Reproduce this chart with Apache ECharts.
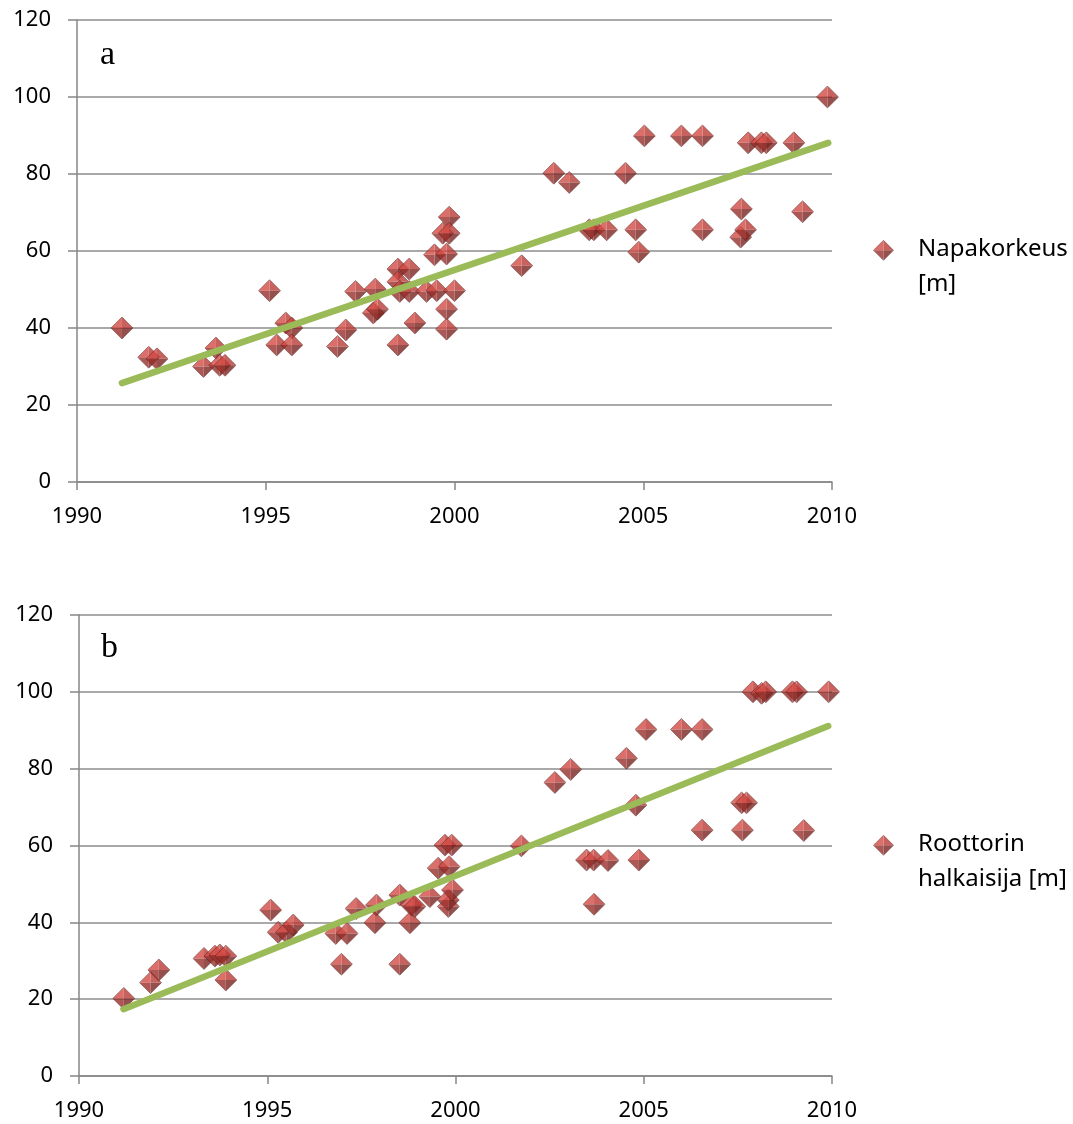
<!DOCTYPE html>
<html>
<head>
<meta charset="utf-8">
<style>
  html, body { margin: 0; padding: 0; background: #fff; }
  #chart { width: 1073px; height: 1124px; }
</style>
<script src="https://cdn.jsdelivr.net/npm/echarts@6/dist/echarts.min.js"></script>
</head>
<body>
<div id="chart"></div>
<script>
// Panel a: hub height by year
const hubYears = [
  1991.19, 1991.90, 1992.12, 1993.35, 1993.68, 1993.78, 1993.92,
  1995.10, 1995.29, 1995.53, 1995.69, 1995.69,
  1996.90, 1997.12, 1997.38, 1997.85, 1997.90, 1997.96,
  1998.50, 1998.50, 1998.50, 1998.55, 1998.80, 1998.80, 1998.95,
  1999.26, 1999.47, 1999.53, 1999.69, 1999.79, 1999.79, 1999.79, 1999.86, 1999.86, 2000.00,
  2001.78, 2002.63, 2003.04, 2003.57, 2003.69, 2004.03, 2004.53, 2004.80, 2004.88,
  2005.03, 2006.01, 2006.57, 2006.57,
  2007.60, 2007.58, 2007.71, 2007.78, 2008.13, 2008.26, 2008.99, 2009.22, 2009.88
];
const hubHeights = [
  40, 32.4, 32, 30, 34.8, 30.3, 30.3,
  49.7, 35.6, 41.3, 40, 35.6,
  35.2, 39.5, 49.5, 43.9, 50.1, 44.9,
  55.3, 35.6, 52, 49.5, 55.3, 49.5, 41.3,
  49.5, 59, 49.7, 64.6, 59.2, 44.9, 39.7, 68.8, 64.6, 49.7,
  56.2, 80.2, 77.8, 65.5, 65.5, 65.5, 80.2, 65.5, 59.7,
  89.9, 89.9, 89.9, 65.5,
  70.9, 63.6, 65.5, 88.1, 88.1, 88.1, 88.1, 70.2, 100
];
const hubTrendYears = [1991.19, 2009.90];
const hubTrendValues = [25.7, 88.1];

// Panel b: rotor diameter by year
const rotorYears = [
  1991.19, 1991.90, 1992.12, 1993.32, 1993.61, 1993.74, 1993.90, 1993.90,
  1995.09, 1995.29, 1995.51, 1995.69,
  1996.82, 1996.97, 1997.12, 1997.36, 1997.86, 1997.90,
  1998.52, 1998.52, 1998.79, 1998.83, 1998.92,
  1999.32, 1999.54, 1999.72, 1999.81, 1999.81, 1999.83, 1999.90, 1999.92,
  2001.75, 2002.64, 2003.06, 2003.48, 2003.67, 2003.68, 2004.05, 2004.54, 2004.79, 2004.87,
  2005.06, 2006.00, 2006.55, 2006.55,
  2007.62, 2007.60, 2007.73, 2007.90, 2008.13, 2008.24, 2008.95, 2009.06, 2009.25, 2009.91
];
const rotorDiameters = [
  20.2, 24.3, 27.6, 30.6, 31.2, 31.5, 31.2, 25,
  43.2, 37.4, 37.4, 39.3,
  37.1, 29.1, 37.1, 43.6, 39.9, 44.5,
  47.1, 29.1, 39.9, 44.5, 44.1,
  46.7, 54.1, 60.1, 44.1, 45.8, 54.5, 60.1, 48.4,
  59.9, 76.4, 79.8, 56.2, 56.2, 44.7, 56.1, 82.7, 70.5, 56.2,
  90.2, 90.2, 90.2, 64,
  64, 71.1, 71.1, 100, 99.6, 100, 100, 100, 63.9, 100
];
const rotorTrendYears = [1991.18, 2009.90];
const rotorTrendValues = [17.4, 91.1];

// Axis ticks
const yearTicks = { min: 1990, max: 2010, interval: 5 };
const valueTicks = { min: 0, max: 120, interval: 20 };

// Series and legend labels
const seriesNames = ['Napakorkeus [m]', 'Roottorin halkaisija [m]'];
const legendLabels = ['Napakorkeus\n[m]', 'Roottorin\nhalkaisija [m]'];
const panelLetters = ['a', 'b'];

function pairs(xs, ys) { return xs.map((x, i) => [x, ys[i]]); }

// Bevelled diamond drawn as four shaded facets
const facets =
  "<polygon points='22,1 1,22 22,22' fill='#d54c46'/>" +
  "<polygon points='22,1 43,22 22,22' fill='#bb3b36'/>" +
  "<polygon points='1,22 22,43 22,22' fill='#9a2f2b'/>" +
  "<polygon points='43,22 22,43 22,22' fill='#7b2421'/>" +
  "<polygon points='22,1 43,22 22,43 1,22' fill='none' stroke='#561a18' stroke-width='1.2'/>";
const diamondSvg =
  "<svg xmlns='http://www.w3.org/2000/svg' width='44' height='44' viewBox='0 0 44 44'>" + facets + "</svg>";
// Legend key: same diamond placed at the top of a taller box so it sits beside the first text line
const legendKeySvg =
  "<svg xmlns='http://www.w3.org/2000/svg' width='44' height='114' viewBox='0 0 44 114'>" + facets + "</svg>";
const toImage = s => 'image://data:image/svg+xml;charset=utf-8,' + encodeURIComponent(s);
const diamondSymbol = toImage(diamondSvg);
const legendSymbol = toImage(legendKeySvg);

const FONT = 'Noto Sans';
const axisGray = '#878787';

function xAxisFor(gridIndex) {
  return {
    type: 'value', gridIndex,
    min: yearTicks.min, max: yearTicks.max, interval: yearTicks.interval,
    axisLine: { show: true, onZero: false, lineStyle: { color: axisGray, width: 1.5 } },
    axisTick: { show: true, length: 8, lineStyle: { color: axisGray, width: 1.5 } },
    splitLine: { show: false },
    axisLabel: { color: '#000', fontFamily: FONT, fontSize: 22, margin: 24, formatter: v => String(v) }
  };
}
function yAxisFor(gridIndex) {
  return {
    type: 'value', gridIndex,
    min: valueTicks.min, max: valueTicks.max, interval: valueTicks.interval,
    axisLine: { show: true, onZero: false, lineStyle: { color: axisGray, width: 1.5 } },
    axisTick: { show: true, length: 9, lineStyle: { color: axisGray, width: 1.5 } },
    splitLine: { show: true, lineStyle: { color: '#8c8c8c', width: 1.5 } },
    axisLabel: { color: '#000', fontFamily: FONT, fontSize: 22, margin: 26, formatter: v => String(v) }
  };
}
function scatterSeries(name, idx, data) {
  return {
    name, type: 'scatter', xAxisIndex: idx, yAxisIndex: idx,
    symbol: diamondSymbol, symbolSize: 23, data, z: 2
  };
}
function trendSeries(idx, data) {
  return {
    name: 'trend' + idx, type: 'line', xAxisIndex: idx, yAxisIndex: idx,
    data, symbol: 'none', z: 3, silent: true,
    lineStyle: { color: '#9bbb59', width: 6.5, cap: 'round' }
  };
}
function legendFor(idx, top) {
  return {
    left: 868, top, orient: 'vertical', data: [{ name: seriesNames[idx], icon: legendSymbol }],
    itemWidth: 21, itemHeight: 57, selectedMode: false,
    formatter: () => legendLabels[idx],
    textStyle: { fontFamily: FONT, fontSize: 24, color: '#000', lineHeight: 35, padding: [0, 0, 0, 19] }
  };
}

const chart = echarts.init(document.getElementById('chart'), null, { renderer: 'canvas' });
chart.setOption({
  animation: false,
  backgroundColor: '#fff',
  grid: [
    { left: 77, top: 20, width: 755, height: 462 },
    { left: 79, top: 615, width: 753, height: 461 }
  ],
  xAxis: [xAxisFor(0), xAxisFor(1)],
  yAxis: [yAxisFor(0), yAxisFor(1)],
  legend: [legendFor(0, 227), legendFor(1, 822)],
  graphic: [
    { type: 'text', left: 100, top: 38, style: { text: panelLetters[0], font: '34px "Liberation Serif"', fill: '#000' } },
    { type: 'text', left: 101, top: 631, style: { text: panelLetters[1], font: '34px "Liberation Serif"', fill: '#000' } }
  ],
  series: [
    scatterSeries(seriesNames[0], 0, pairs(hubYears, hubHeights)),
    trendSeries(0, pairs(hubTrendYears, hubTrendValues)),
    scatterSeries(seriesNames[1], 1, pairs(rotorYears, rotorDiameters)),
    trendSeries(1, pairs(rotorTrendYears, rotorTrendValues))
  ]
});
</script>
</body>
</html>
